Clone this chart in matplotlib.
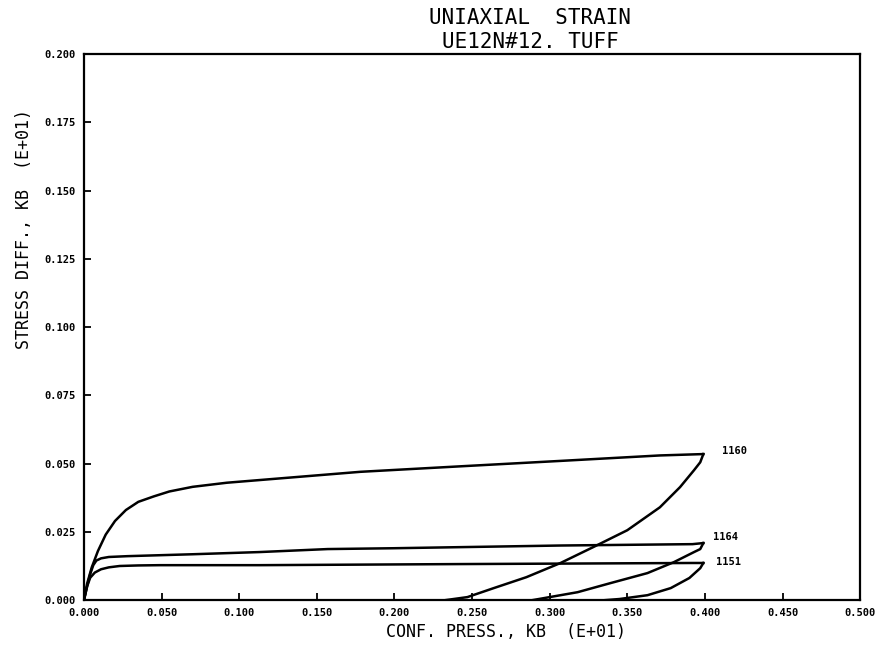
import matplotlib
matplotlib.use("Agg")
import matplotlib.pyplot as plt

# loading / unloading paths, confining pressure vs stress difference (KB, E+01)
p1160_load = [0.0, 0.002, 0.005, 0.009, 0.014, 0.020, 0.027, 0.035, 0.045, 0.055, 0.070,
              0.092, 0.135, 0.178, 0.242, 0.307, 0.371, 0.399]
q1160_load = [0.0, 0.006, 0.012, 0.018, 0.024, 0.029, 0.033, 0.036, 0.038, 0.0398, 0.0415,
              0.043, 0.045, 0.047, 0.049, 0.051, 0.053, 0.0535]
p1160_unload = [0.399, 0.397, 0.393, 0.384, 0.371, 0.350, 0.328, 0.307, 0.285, 0.264, 0.247, 0.233]
q1160_unload = [0.0535, 0.0505, 0.0476, 0.0414, 0.034, 0.0256, 0.0194, 0.0136, 0.0084, 0.0044, 0.0011, 0.0]

p1164_load = [0.0, 0.002, 0.004, 0.006, 0.008, 0.011, 0.016, 0.028, 0.070, 0.113, 0.157, 0.199,
              0.242, 0.307, 0.392, 0.399]
q1164_load = [0.0, 0.005, 0.0095, 0.0128, 0.0145, 0.0153, 0.0158, 0.0161, 0.0168, 0.0176, 0.0187,
              0.019, 0.0194, 0.020, 0.0205, 0.0209]
p1164_unload = [0.399, 0.397, 0.393, 0.380, 0.363, 0.339, 0.318, 0.296, 0.289]
q1164_unload = [0.0209, 0.0187, 0.0176, 0.0139, 0.0099, 0.0062, 0.0029, 0.0007, 0.0]

p1151_load = [0.0, 0.002, 0.004, 0.007, 0.011, 0.016, 0.023, 0.035, 0.049, 0.113, 0.242, 0.392, 0.399]
q1151_load = [0.0, 0.005, 0.0082, 0.0101, 0.0113, 0.0120, 0.0125, 0.0127, 0.0128, 0.0128, 0.0132,
              0.0136, 0.0136]
p1151_unload = [0.399, 0.397, 0.390, 0.378, 0.363, 0.345, 0.336]
q1151_unload = [0.0136, 0.0117, 0.0081, 0.0044, 0.0018, 0.0004, 0.0]

test_ids = ["1160", "1164", "1151"]
label_x = [0.411, 0.405, 0.407]
label_y = [0.0545, 0.0232, 0.0138]

x_ticks = [0.0, 0.05, 0.10, 0.15, 0.20, 0.25, 0.30, 0.35, 0.40, 0.45, 0.50]
y_ticks = [0.0, 0.025, 0.05, 0.075, 0.10, 0.125, 0.15, 0.175, 0.20]

fig = plt.figure(figsize=(8.84, 6.53), dpi=100)
ax = fig.add_axes([0.095, 0.081, 0.878, 0.836])

lw = 1.8
ax.plot(p1160_load, q1160_load, color='k', lw=lw)
ax.plot(p1160_unload, q1160_unload, color='k', lw=lw)
ax.plot(p1164_load, q1164_load, color='k', lw=lw)
ax.plot(p1164_unload, q1164_unload, color='k', lw=lw)
ax.plot(p1151_load, q1151_load, color='k', lw=lw)
ax.plot(p1151_unload, q1151_unload, color='k', lw=lw)

for name, x, y in zip(test_ids, label_x, label_y):
    ax.text(x, y, name, fontsize=7.5, fontweight='bold',
            family='DejaVu Sans Mono', va='center', ha='left')

ax.set_xlim(0, 0.5)
ax.set_ylim(0, 0.2)
ax.set_xticks(x_ticks)
ax.set_yticks(y_ticks)
ax.set_xticklabels(["%.3f" % v for v in x_ticks], fontsize=7.5, fontweight='bold',
                   family='DejaVu Sans Mono')
ax.set_yticklabels(["%.3f" % v for v in y_ticks], fontsize=7.5, fontweight='bold',
                   family='DejaVu Sans Mono')
ax.tick_params(direction='in', length=5, width=1.3, pad=6)
for s in ax.spines.values():
    s.set_linewidth(1.6)

# axis titles sit off-centre, as on the plotter output
fig.text(0.572, 0.032, "CONF. PRESS., KB  (E+01)", fontsize=12,
         family='DejaVu Sans Mono', ha='center', va='center')
fig.text(0.027, 0.650, "STRESS DIFF., KB  (E+01)", fontsize=12,
         family='DejaVu Sans Mono', ha='center', va='center', rotation=90)

fig.text(0.600, 0.972, "UNIAXIAL  STRAIN", fontsize=15, family='DejaVu Sans Mono',
         ha='center', va='center')
fig.text(0.600, 0.936, "UE12N#12. TUFF", fontsize=15, family='DejaVu Sans Mono',
         ha='center', va='center')

fig.savefig("out.png", dpi=100)
